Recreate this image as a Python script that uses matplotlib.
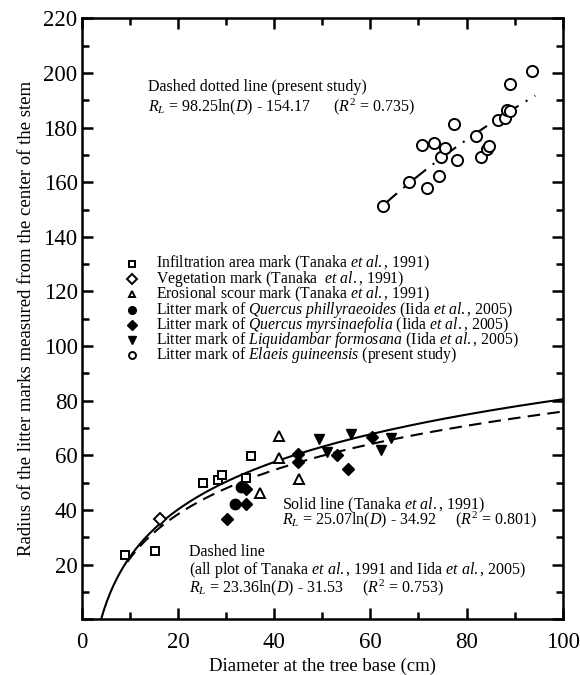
import numpy as np
import matplotlib
matplotlib.use("Agg")
import matplotlib.pyplot as plt
from matplotlib.ticker import MultipleLocator, FuncFormatter

plt.rcParams['font.family'] = ['Liberation Serif', 'DejaVu Serif']
plt.rcParams['mathtext.fontset'] = 'custom'
plt.rcParams['mathtext.rm'] = 'Liberation Serif'
plt.rcParams['mathtext.it'] = 'Liberation Serif:italic'

# infiltration area mark (open squares)
infil_x = [9.1, 15.2, 25.2, 28.3, 29.2, 34.1, 35.2]
infil_y = [23.6, 25.0, 49.9, 51.0, 52.7, 51.8, 59.9]
# vegetation mark (open diamond)
veg_x = [16.3]
veg_y = [36.8]
# erosional scour mark (open triangles)
eros_x = [41.1, 41.1, 37.1, 45.2]
eros_y = [67.1, 59.2, 46.3, 51.5]
# Quercus phillyraeoides (filled circles)
qp_x = [31.9, 33.1]
qp_y = [42.1, 48.3]
# Quercus myrsinaefolia (filled diamonds)
qm_x = [30.1, 34.1, 34.1, 45.0, 45.0, 53.1, 55.3, 60.3]
qm_y = [36.8, 42.2, 47.7, 60.4, 57.7, 60.2, 55.1, 66.8]
# Liquidambar formosana (filled down triangles)
lf_x = [49.3, 56.0, 50.9, 64.2, 62.2]
lf_y = [66.1, 67.7, 61.2, 66.5, 61.9]
# Elaeis guineensis (open circles, present study)
eg_x = [62.6, 68.0, 71.7, 74.2, 74.7, 75.6, 73.3, 70.8, 77.5, 78.0,
        81.9, 83.0, 84.2, 84.7, 86.5, 88.0, 88.4, 89.1, 89.1, 93.6]
eg_y = [151.4, 160.1, 157.8, 162.3, 169.4, 172.7, 174.3, 173.6, 181.2, 168.1,
        177.0, 169.1, 172.0, 173.3, 182.9, 183.4, 186.5, 186.0, 195.9, 200.7]

# regression curves R = a ln(D) + b, drawn over [d0, d1]
solid_coef = [25.07, -34.92]
solid_range = [4.03, 100]
dashed_coef = [23.36, -31.53]
dashed_range = [9.5, 100]
dashdot_coef = [98.25, -255.0]
dashdot_range = [62.6, 94.3]

legend_labels = [
    r"Infiltration area mark (Tanaka $\mathit{et\ al.}$, 1991)",
    r"Vegetation mark (Tanaka  $\mathit{et\ al.}$, 1991)",
    r"Erosional scour mark (Tanaka $\mathit{et\ al.}$, 1991)",
    r"Litter mark of $\mathit{Quercus\ phillyraeoides}$ (Iida $\mathit{et\ al.}$, 2005)",
    r"Litter mark of $\mathit{Quercus\ myrsinaefolia}$ (Iida $\mathit{et\ al.}$, 2005)",
    r"Litter mark of $\mathit{Liquidambar\ formosana}$ (Iida $\mathit{et\ al.}$, 2005)",
    r"Litter mark of $\mathit{Elaeis\ guineensis}$ (present study)",
]

fig = plt.figure(figsize=(5.8, 6.75), dpi=100)
ax = fig.add_axes([0.1409, 0.0825, 0.8293, 0.8904])

ms = 6.5
open_kw = dict(linestyle='none', markerfacecolor='white', markeredgecolor='black',
               markeredgewidth=1.4, color='black')
fill_kw = dict(linestyle='none', color='black')

def curve(coef, rng):
    d = np.linspace(rng[0], rng[1], 300)
    return d, coef[0] * np.log(d) + coef[1]

d, r = curve(solid_coef, solid_range)
ax.plot(d, r, color='black', lw=1.5, zorder=2)
d, r = curve(dashed_coef, dashed_range)
ax.plot(d, r, color='black', lw=1.5, dashes=(6, 3.5), zorder=2)
d, r = curve(dashdot_coef, dashdot_range)
ax.plot(d, r, color='black', lw=1.5, dashes=(9, 4, 1, 4), zorder=2)

ax.plot(infil_x, infil_y, marker='s', markersize=ms - 0.5, **open_kw)
ax.plot(veg_x, veg_y, marker='D', markersize=ms - 0.5, **open_kw)
ax.plot(eros_x, eros_y, marker='^', markersize=ms, **open_kw)
ax.plot(qp_x, qp_y, marker='o', markersize=ms + 1, **fill_kw)
ax.plot(qm_x, qm_y, marker='D', markersize=ms, **fill_kw)
ax.plot(lf_x, lf_y, marker='v', markersize=ms + 1, **fill_kw)
ax.plot(eg_x, eg_y, marker='o', markersize=ms + 1.5, **open_kw)

# hand-placed legend
leg_markers = [('s', False), ('D', False), ('^', False), ('o', True),
               ('D', True), ('v', True), ('o', False)]
y0, dy = 130.2, 5.6
for i, ((m, filled), lab) in enumerate(zip(leg_markers, legend_labels)):
    yy = y0 - i * dy
    if filled:
        ax.plot([10.5], [yy], marker=m, markersize=5.5, **fill_kw)
    else:
        ax.plot([10.5], [yy], marker=m, markersize=5, linestyle='none',
                markerfacecolor='white', markeredgecolor='black',
                markeredgewidth=1.4)
    ax.text(15.4, yy, lab, fontsize=11.3, va='center', ha='left')

fs = 11.5
ax.text(13.8, 194.8, "Dashed dotted line (present study)", fontsize=fs, va='center')
ax.text(13.8, 187.5, r"$R_L$ = 98.25ln($D$) - 154.17      ($R^2$ = 0.735)",
        fontsize=fs, va='center')
ax.text(41.6, 41.8, r"Solid line (Tanaka $\mathit{et\ al.}$, 1991)", fontsize=fs, va='center')
ax.text(41.6, 36.3, r"$R_L$ = 25.07ln($D$) - 34.92     ($R^2$ = 0.801)",
        fontsize=fs, va='center')
ax.text(22.2, 24.7, "Dashed line", fontsize=fs, va='center')
ax.text(22.2, 18.2, r"(all plot of Tanaka $\mathit{et\ al.}$, 1991 and Iida $\mathit{et\ al.}$, 2005)",
        fontsize=fs, va='center')
ax.text(22.2, 11.7, r"$R_L$ = 23.36ln($D$) - 31.53     ($R^2$ = 0.753)",
        fontsize=fs, va='center')

ax.set_xlim(0, 100)
ax.set_ylim(0, 220)
ax.xaxis.set_major_locator(MultipleLocator(20))
ax.xaxis.set_minor_locator(MultipleLocator(10))
ax.yaxis.set_major_locator(MultipleLocator(20))
ax.yaxis.set_minor_locator(MultipleLocator(10))
ax.yaxis.set_major_formatter(FuncFormatter(lambda v, p: '' if v == 0 else '%d' % v))
ax.tick_params(which='both', direction='in', top=True, right=True, width=1.8)
ax.tick_params(which='major', length=8, labelsize=16.5)
ax.tick_params(which='minor', length=5)
ax.tick_params(axis='x', pad=9)
ax.tick_params(axis='y', pad=3)
for s in ax.spines.values():
    s.set_linewidth(1.8)

fig.text(0.5 * (0.1409 + 0.9702), 1 - 666 / 675, "Diameter at the tree base (cm)",
         fontsize=13.5, ha='center', va='center')
ax.set_ylabel("Radius of the litter marks measured from the center of the stem",
              fontsize=13.5, labelpad=6)

fig.savefig("out.png", dpi=100)
